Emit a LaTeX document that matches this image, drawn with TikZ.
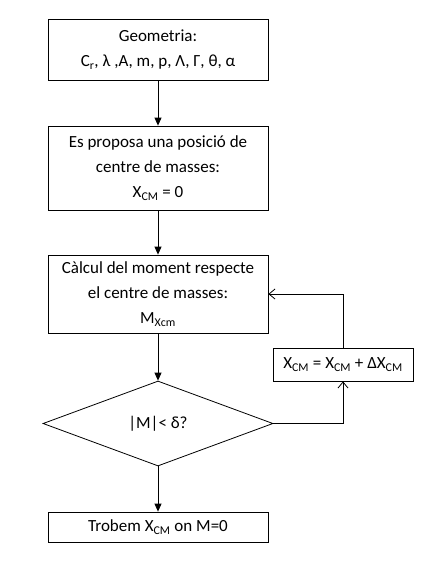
\documentclass[tikz,border=0pt]{standalone}
\usepackage{fontspec}
\setmainfont{Carlito}
\usepackage{tikz}
\usetikzlibrary{arrows.meta, positioning, shapes.geometric}

\begin{document}
\begin{tikzpicture}[>={Triangle[length=8pt,width=7pt]}, node distance=120pt, on grid, auto,
  line width=0.8pt,
  box/.style={draw, minimum width=220pt, align=center, inner sep=2pt, font=\fontsize{17}{25}\selectfont},
  test/.style={draw, diamond, minimum width=230pt, minimum height=85pt, inner sep=0pt, font=\fontsize{17}{25}\selectfont},
  back/.style={-{Straight Barb[length=6pt,width=10pt]}}]

        \useasboundingbox (0,0) rectangle (434pt,-570pt);

        % Nodes
        \node (geo) [box, minimum height=61pt] at (158pt,-49.5pt) {Geometria:\\ C\textsubscript{r}, λ ,A, m, p, Λ, Γ, θ, α};
        \node (prop) [box, minimum height=84pt, below=118.5pt of geo] {Es proposa una posició de\\ centre de masses:\\ X\textsubscript{CM} = 0};
        \node (calc) [box, minimum height=78pt, below=126pt of prop] {Càlcul del moment respecte\\ el centre de masses:\\ M\textsubscript{Xcm}};
        \node (cond) [test, below=129.5pt of calc] {|M|< δ?};
        \node (res) [box, minimum height=30pt, below=103.5pt of cond] {Trobem X\textsubscript{CM} on M=0};
        \node (upd) [box, minimum width=140pt, minimum height=33pt, below right=70.5pt and 185pt of calc] {X\textsubscript{CM} = X\textsubscript{CM} + ΔX\textsubscript{CM}};

        % Arrows
        \draw[->] (geo) -- (prop);
        \draw[->] (prop) -- (calc);
        \draw[->] (calc) -- (cond);
        \draw[->] (cond) -- (res);
        \draw[back] (cond.east) -| (upd.south);
        \draw[back] (upd.north) |- (calc.east);

      \end{tikzpicture}
\end{document}
